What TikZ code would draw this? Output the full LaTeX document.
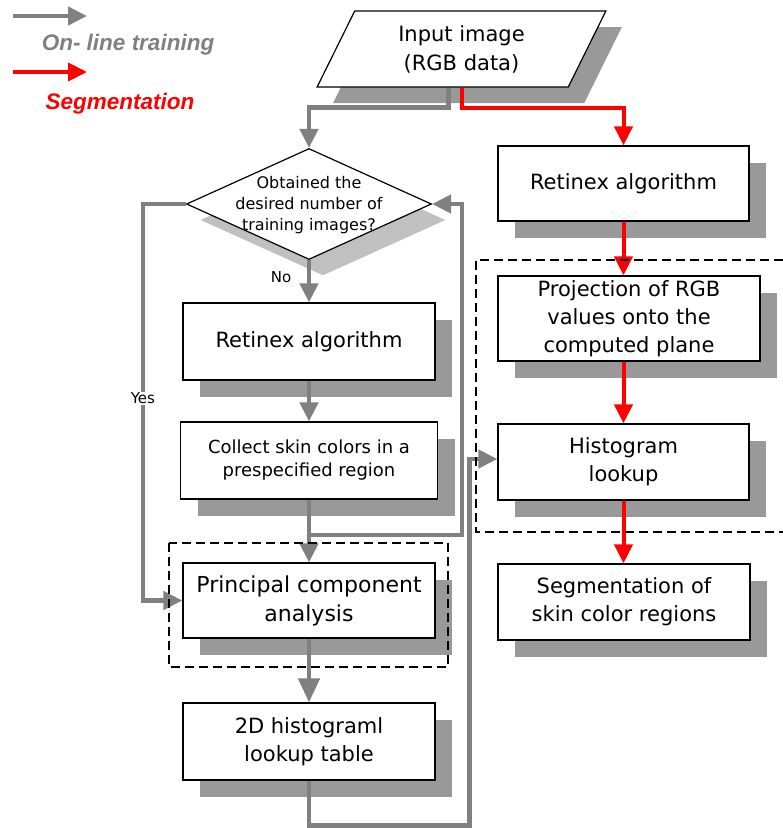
\documentclass[tikz,border=0pt]{standalone}
\usepackage{fontspec}
\setmainfont{DejaVu Sans}
\newfontfamily\legendfont{Liberation Sans}
\usepackage{tikz}
\usetikzlibrary{arrows.meta}
\usetikzlibrary{shapes.geometric}
\usetikzlibrary{shadows}

\definecolor{arrowgray}{RGB}{128,128,128}
\definecolor{shadowgray}{RGB}{153,153,153}
\definecolor{lightshadow}{RGB}{192,192,192}
\definecolor{segred}{RGB}{255,0,0}

\tikzset{
  box/.style={draw, line width=1.2pt, fill=white, align=center, inner sep=0pt,
    minimum width=252pt, minimum height=77pt, font=\fontsize{21}{28}\selectfont,
    drop shadow={shadow xshift=17pt, shadow yshift=-17pt, fill=shadowgray, opacity=1}},
  online/.style={draw=arrowgray, line width=4.5pt, -{Triangle[length=19pt,width=18pt]}},
  segm/.style={draw=segred, line width=4pt, -{Triangle[length=19pt,width=18pt]}},
  lbl/.style={font=\fontsize{15}{17}\selectfont},
  group/.style={draw, line width=2.2pt, dash pattern=on 9pt off 5pt},
  legendtxt/.style={font={\legendfont\fontsize{22.5}{26}\selectfont\bfseries\itshape}}
}

\begin{document}
\begin{tikzpicture}[x=1pt, y=-1pt]
      \useasboundingbox (0,0) rectangle (783,828);

      % legend
      \coordinate (lgA) at (13,16);
      \coordinate (lgB) at (87,16);
      \coordinate (lgC) at (13,72);
      \coordinate (lgD) at (87,72);
      \draw[online] (lgA) -- (lgB);
      \draw[segm] (lgC) -- (lgD);
      \node[legendtxt, text=arrowgray] (onlinetxt) at (128,45) {On- line training};
      \node[legendtxt, text=segred] (segmtxt) at (120,104) {Segmentation};

      \node[draw, trapezium, trapezium left angle=65, trapezium right angle=115,
        trapezium stretches=true, minimum width=289pt, minimum height=76pt,
        line width=1.2pt, fill=white, inner sep=0pt, align=center,
        font=\fontsize{21}{29}\selectfont,
        drop shadow={shadow xshift=16pt, shadow yshift=-16pt, fill=shadowgray, opacity=1}]
        (input) at (461.5,49) {Input image\\(RGB data)};

      % training side
      \node[draw, diamond, line width=1.2pt, fill=white, inner sep=0pt,
        minimum width=245pt, minimum height=111pt,
        drop shadow={shadow xshift=14pt, shadow yshift=-16pt, fill=lightshadow, opacity=1}]
        (check) at (309,204) {};
      \node[align=center, font=\fontsize{16}{21}\selectfont] (checktxt) at (309,205)
        {Obtained the\\desired number of\\training images?};
      \node[lbl] (no) at (281,277) {No};

      \node[box] (ret1) at (309,341.5) {Retinex algorithm};
      \node[box, minimum width=257pt, font=\fontsize{18}{23}\selectfont] (collect) at (309,460.5)
        {Collect skin colors in a\\prespecified region};
      \node[box, minimum height=75pt, font=\fontsize{22}{29}\selectfont] (pca) at (309,600.5)
        {Principal component\\analysis};
      \node[box] (hist2d) at (309,741.5) {2D histograml\\lookup table};

      % segmentation side
      \node[box, minimum width=251pt, minimum height=75pt] (ret2) at (623.5,183.5) {Retinex algorithm};
      \node[box, minimum width=262pt, minimum height=85pt] (proj) at (629,318.5)
        {Projection of RGB\\values onto the\\computed plane};
      \node[box, minimum width=251pt, minimum height=76pt] (hlook) at (623.5,462) {Histogram\\lookup};
      \node[box, minimum height=76pt] (seg) at (624,602) {Segmentation of\\skin color regions};

      \coordinate (split) at (309,535);

      \draw[online] ([xshift=-13pt]input.south) -- ++(0,20) -| (check.north);
      \draw[segm] (input.south) -- ++(0,20) -| (ret2.north);

      \draw[online] (check.south) -- (ret1.north);
      \draw[online] (check.west) -- ++(-43,0) |- node[pos=0.245, lbl, fill=white, inner sep=1pt] (yes) {Yes} (pca.west);
      \draw[online] (ret1.south) -- (collect.north);
      \draw[online] (collect.south) -- (pca.north);
      \draw[online] (split) -| ([xshift=30pt]check.east) -- (check.east);
      \draw[online, -{Triangle[length=24pt,width=21pt]}] (pca.south) -- (hist2d.north);
      \draw[online] (hist2d.south) -- ++(0,45) -| ([xshift=-28pt,yshift=3pt]hlook.west) -- ([yshift=3pt]hlook.west);

      \draw[segm] (ret2.south) -- (ret2.south |- proj.north);
      \draw[segm] (ret2.south |- proj.south) -- (ret2.south |- hlook.north);
      \draw[segm] (hlook.south) -- (hlook.south |- seg.north);

      \draw[group] (169,543) rectangle (448,667);
      \draw[group] (783,260) -| (476,532) -- (783,532);

    \end{tikzpicture}
\end{document}
